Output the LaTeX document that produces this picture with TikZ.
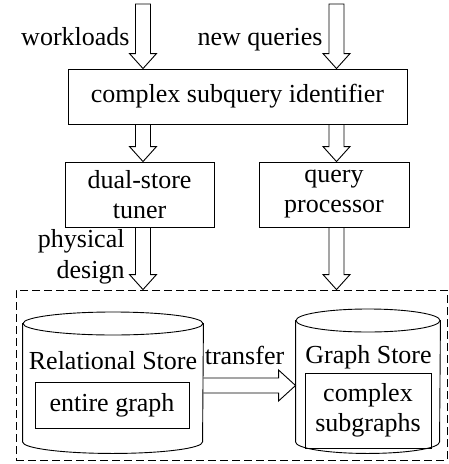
\documentclass[tikz,border=0pt]{standalone}
\usepackage{fontspec}
\setmainfont{Liberation Serif}
\newfontfamily\timesfont{Liberation Serif}
\usetikzlibrary{calc}
\newcommand\hollowdown[2]{\draw let \p1=#1, \p2=#2 in
  (\x1-7.5pt,\y1) -- (\x1-7.5pt,\y2+15pt) -- (\x1-13.5pt,\y2+15pt) -- (\x1,\y2)
  -- (\x1+13.5pt,\y2+15pt) -- (\x1+7.5pt,\y2+15pt) -- (\x1+7.5pt,\y1) -- cycle;}
\newcommand\hollowright[2]{\draw let \p1=#1, \p2=#2 in
  (\x1,\y1+7.5pt) -- (\x2-17pt,\y1+7.5pt) -- (\x2-17pt,\y1+15.5pt) -- (\x2,\y1)
  -- (\x2-17pt,\y1-15.5pt) -- (\x2-17pt,\y1-7.5pt) -- (\x1,\y1-7.5pt);}
\begin{document}
\begin{tikzpicture}[x=1pt,y=-1pt, line width=0.9pt,
  txt/.style={inner sep=0pt, font=\timesfont\fontsize{26}{30}\selectfont},
  box/.style={txt, draw, align=center}]
\useasboundingbox (0,0) rectangle (449,464);

% boxes
\node[box, minimum width=339, minimum height=55] (csi) at (237.5,96.5) {complex subquery identifier};
\node[box, minimum width=149, minimum height=65] (dst) at (139.5,194.5) {dual-store\\tuner};
\node[box, minimum width=150, minimum height=65] (qp) at (334,194.5) {query\\processor};
\node[draw, dash pattern=on 8pt off 4pt, inner sep=0pt, minimum width=431, minimum height=170] (store) at (231.5,375) {};

% input labels
\coordinate (wtop) at (143,4);
\coordinate (ntop) at (336.5,4);
\node[txt, anchor=base east] (wl) at (130,45) {workloads};
\node[txt, anchor=base east] (nq) at (323,45) {new queries};
\node[txt, anchor=base east] (ph1) at (125,247) {physical};
\node[txt, anchor=base east] (ph2) at (125,278) {design};

% hollow arrows
\hollowdown{(wtop)}{(csi.north -| wtop)}
\hollowdown{(ntop)}{(csi.north -| ntop)}
\hollowdown{(csi.south -| wtop)}{(dst.north -| wtop)}
\hollowdown{(csi.south -| ntop)}{(qp.north -| ntop)}
\hollowdown{(dst.south -| wtop)}{(store.north -| wtop)}
\hollowdown{(qp.south -| ntop)}{(store.north -| ntop)}

% relational store cylinder
\node[inner sep=0pt, minimum width=180, minimum height=118] (rel) at (113,382.5) {};
\draw (113,323.5) ellipse [x radius=90pt, y radius=11.5pt];
\draw (rel.north west) -- (rel.south west) arc[start angle=180, end angle=360, x radius=90pt, y radius=11.5pt] -- (rel.north east);
\node[txt, anchor=base] (relt) at (113,369) {Relational Store};
\node[box, minimum width=154, minimum height=46] (eg) at (112,405) {entire graph};

% graph store cylinder
\node[inner sep=0pt, minimum width=144, minimum height=121] (gs) at (368,381) {};
\draw (368,320.5) ellipse [x radius=72pt, y radius=11.5pt];
\draw (gs.north west) -- (gs.south west) arc[start angle=180, end angle=360, x radius=72pt, y radius=11.5pt] -- (gs.north east);
\node[txt, anchor=base] (gst) at (368.5,363) {Graph Store};
\node[box, minimum width=126, minimum height=75] (cs) at (368,410.5) {complex\\subgraphs};

% transfer
\coordinate (tr) at (0,385.5);
\hollowright{(rel.east |- tr)}{(gs.west |- tr)}
\node[txt, anchor=base] (trl) at (244.5,364) {transfer};
\end{tikzpicture}
\end{document}
